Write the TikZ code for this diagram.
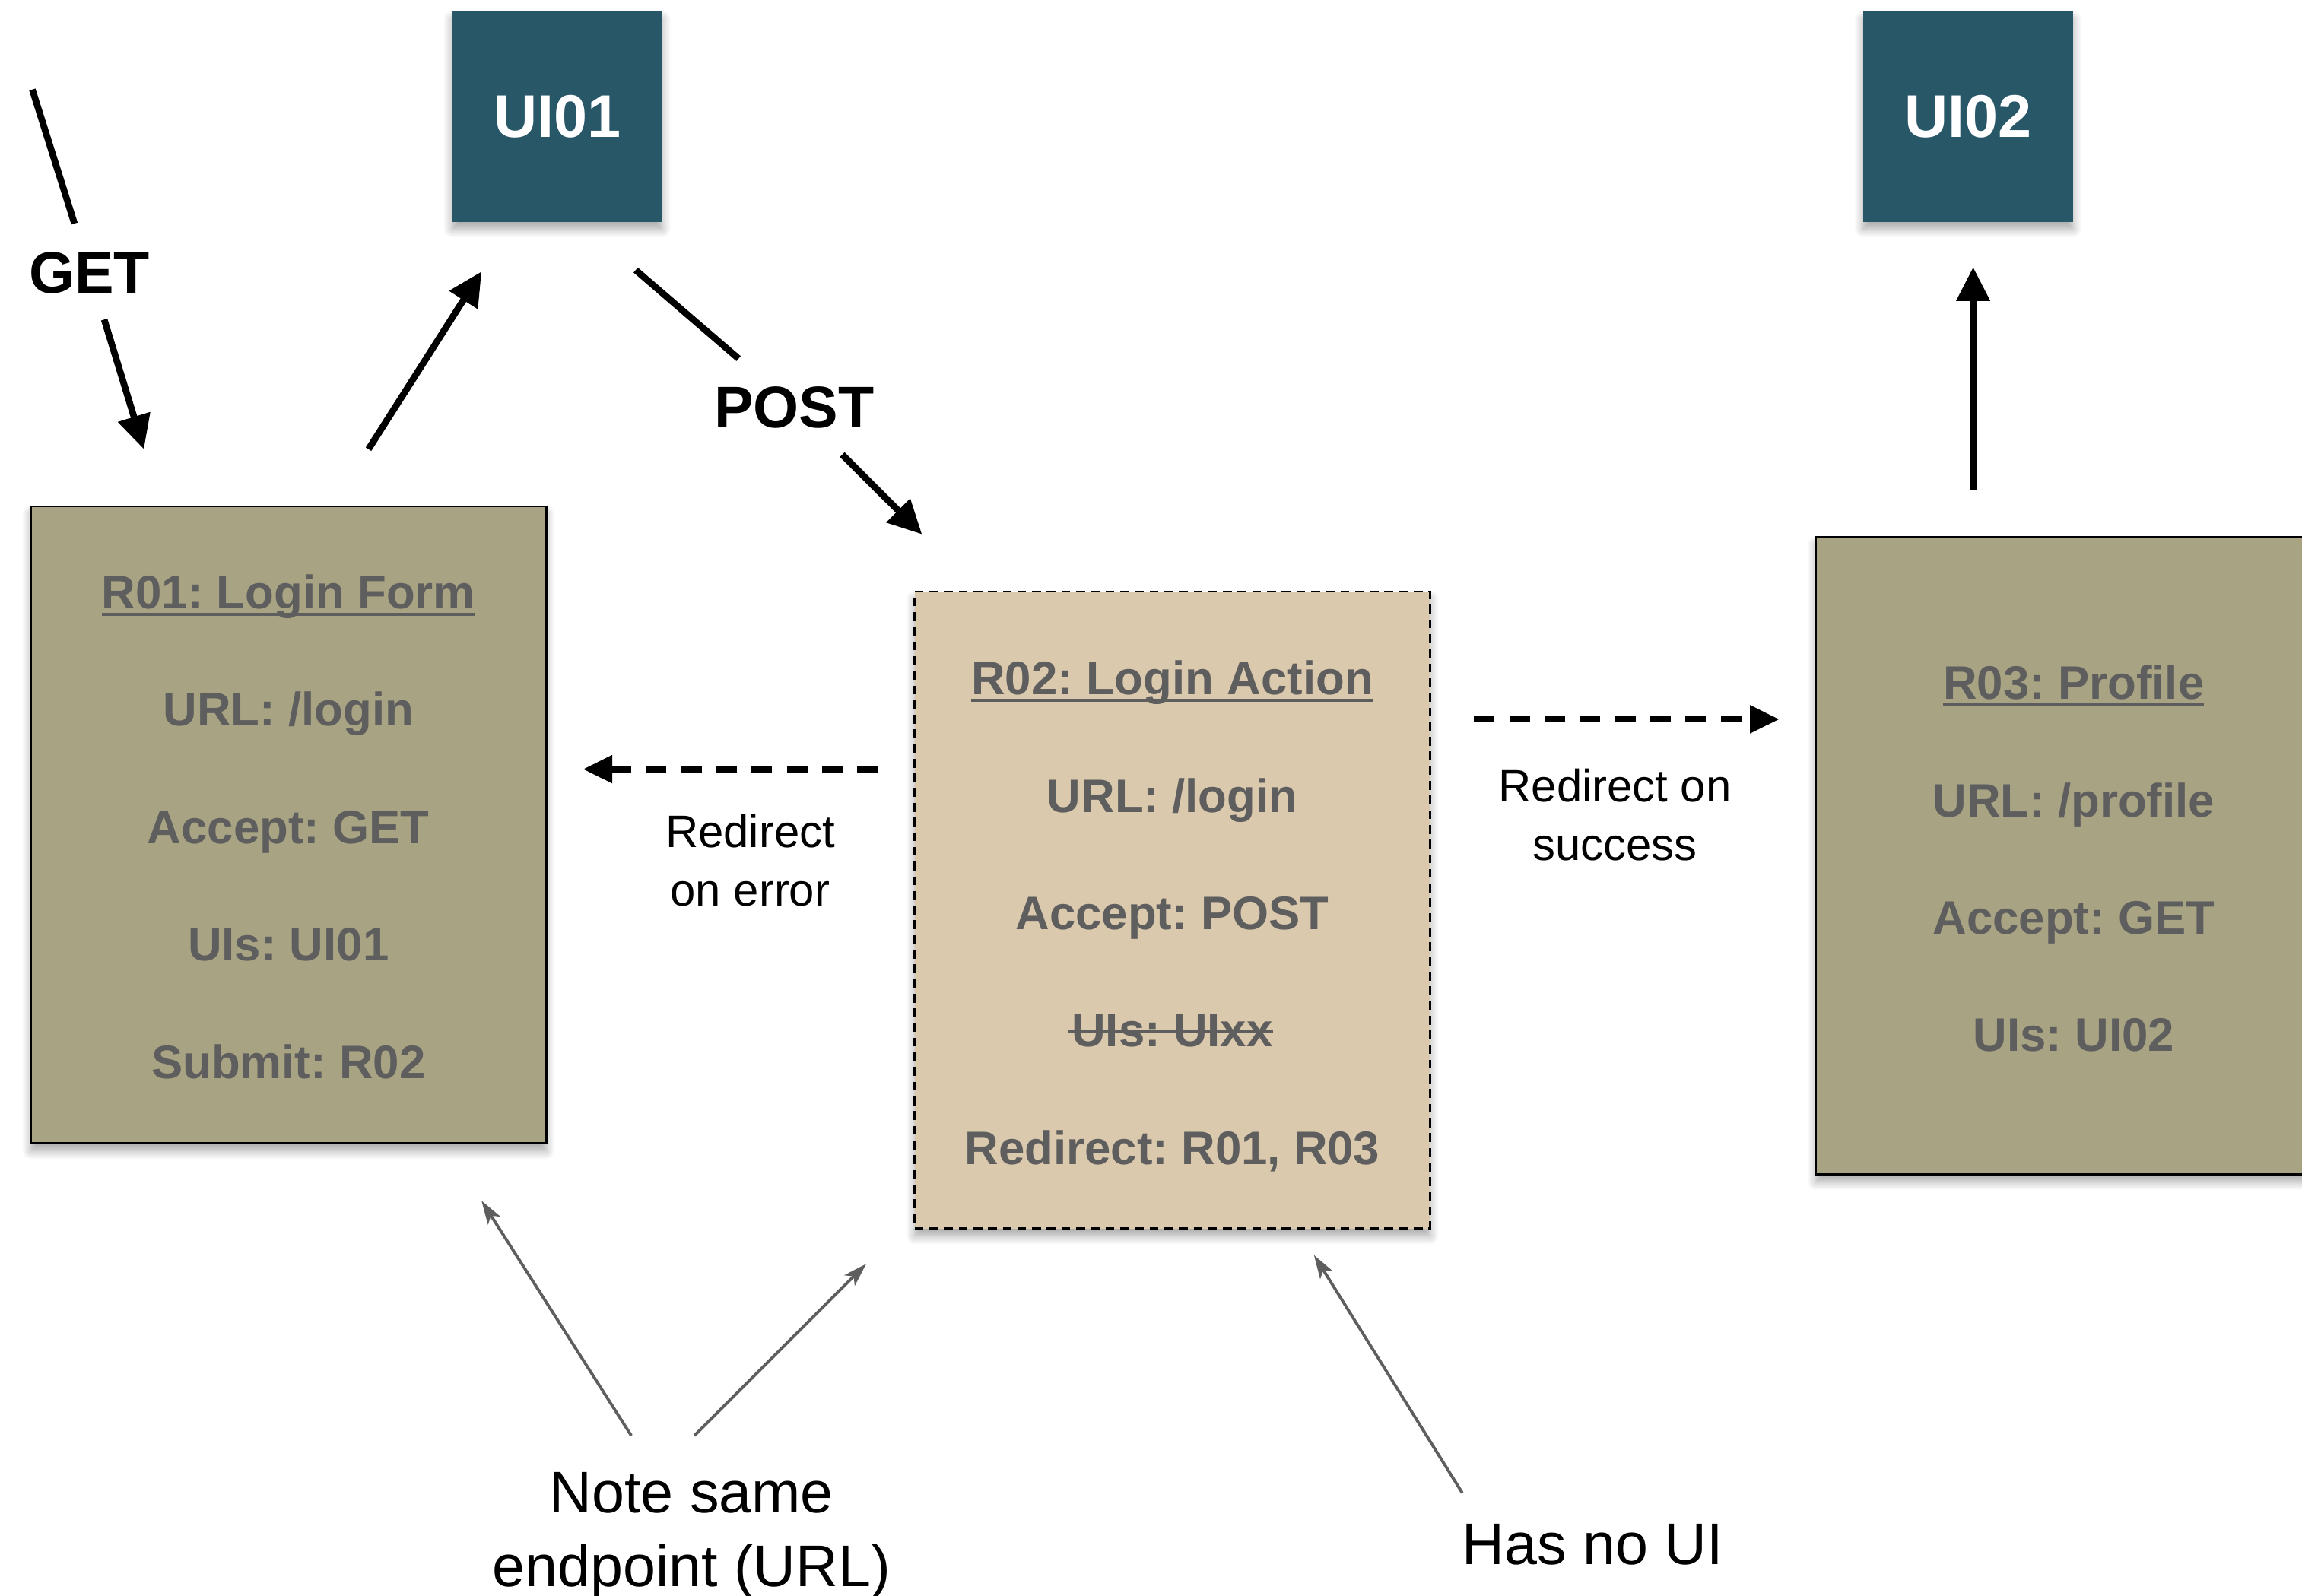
\documentclass[tikz,border=0pt]{standalone}
\usepackage{fontspec}
\setmainfont{Liberation Sans}
\usetikzlibrary{arrows.meta,shadows.blur}
\definecolor{uiteal}{HTML}{285768}
\definecolor{khaki}{HTML}{A8A383}
\definecolor{sand}{HTML}{DBC9AE}
\definecolor{txtgray}{HTML}{5E5E5E}
\frenchspacing
\newcommand\ulinetxt[1]{\setbox0\hbox{#1}\rlap{\rule[-5pt]{\wd0}{2pt}}\box0}
\newcommand\striketxt[1]{\setbox0\hbox{#1}\rlap{\kern-3pt\rule[10pt]{\dimexpr\wd0+3pt}{2pt}}\box0}
\begin{document}
\begin{tikzpicture}[x=1pt,y=-1pt,
  softshadow/.style={blur shadow={shadow xshift=0pt, shadow yshift=-5pt,
    shadow blur radius=6pt, shadow blur steps=10, shadow opacity=35}},
  uibox/.style={fill=uiteal, minimum width=143pt, minimum height=143pt, inner sep=0pt,
    text=white, font=\fontsize{41}{41}\selectfont\bfseries, softshadow},
  rbox/.style={draw=black, line width=1.5pt, minimum width=351pt, minimum height=434pt,
    text=txtgray, font=\fontsize{32}{80}\selectfont\bfseries, align=center, softshadow},
  verb/.style={font=\fontsize{40}{40}\selectfont\bfseries, inner xsep=2pt, inner ysep=18pt,
    text height=29pt, text depth=0pt},
  flow/.style={line width=4.5pt, -{Triangle[length=23pt,width=22pt]}},
  redir/.style={line width=4.5pt, dash pattern=on 14pt off 10pt, -{Triangle[length=20pt,width=18pt]}},
  noteline/.style={line width=2pt, draw=txtgray, -{Stealth[length=16pt,width=10pt,inset=4pt]}},
  redirtxt/.style={font=\fontsize{31}{40}\selectfont, align=center},
  notetxt/.style={font=\fontsize{40}{50}\selectfont, align=center},
]
\useasboundingbox (0,0) rectangle (1568,1087);
\clip (0,0) rectangle (1568,1087);

% UI boxes
\node[uibox] (ui01) at (379.5,79.5) {UI01};
\node[uibox] (ui02) at (1340.5,79.5) {UI02};

% route boxes
\node[rbox, fill=khaki] (r01) at (196.5,562)
  {\rule{0pt}{25.5pt}\ulinetxt{R01: Login Form}\\URL: /login\\Accept: GET\\UIs: UI01\\Submit: R02};
\node[rbox, fill=sand, dash pattern=on 6pt off 4pt] (r02) at (798.5,620)
  {\rule{0pt}{31.5pt}\ulinetxt{R02: Login Action}\\URL: /login\\Accept: POST\\\striketxt{UIs: UIxx}\\Redirect: R01, R03};
\node[rbox, fill=khaki] (r03) at (1412.5,583)
  {\rule{0pt}{27pt}\ulinetxt{R03: Profile}\\URL: /profile\\Accept: GET\\UIs: UI02};

% GET arrow
\coordinate (getA) at (22,61);
\coordinate (getB) at (98,306);
\node[verb] (get) at (61,185) {GET};
\draw[flow] (getA) -- (get) -- (getB);

% R01 -> UI01
\coordinate (r01out) at (251,306);
\coordinate (ui01in) at (328,185);
\draw[flow] (r01out) -- (ui01in);

% POST arrow
\coordinate (ui01out) at (433,184);
\coordinate (r02in) at (628,364);
\node[verb] (post) at (541,277) {POST};
\draw[flow] (ui01out) -- (post) -- (r02in);

% R03 -> UI02
\coordinate (r03out) at (1344,334);
\coordinate (ui02in) at (1344,182);
\draw[flow] (r03out) -- (ui02in);

% redirects
\coordinate (errA) at (598,524);
\coordinate (errB) at (397,524);
\draw[redir] (errA) -- (errB);
\node[redirtxt] (errtxt) at (511,586) {Redirect\\on error};

\coordinate (sucA) at (1004,490);
\coordinate (sucB) at (1212,490);
\draw[redir] (sucA) -- (sucB);
\node[redirtxt] (suctxt) at (1100,555) {Redirect on\\success};

% notes
\node[notetxt] (same) at (471,1046) {Note same\\endpoint (URL)};
\coordinate (sameA) at (430,978);
\coordinate (sameB) at (473,978);
\coordinate (r01note) at (328,818);
\coordinate (r02note) at (590,861);
\draw[noteline] (sameA) -- (r01note);
\draw[noteline] (sameB) -- (r02note);

\node[notetxt] (noui) at (1085,1052) {Has no UI};
\coordinate (nouiA) at (996,1017);
\coordinate (r02note2) at (895,855);
\draw[noteline] (nouiA) -- (r02note2);
\end{tikzpicture}
\end{document}
